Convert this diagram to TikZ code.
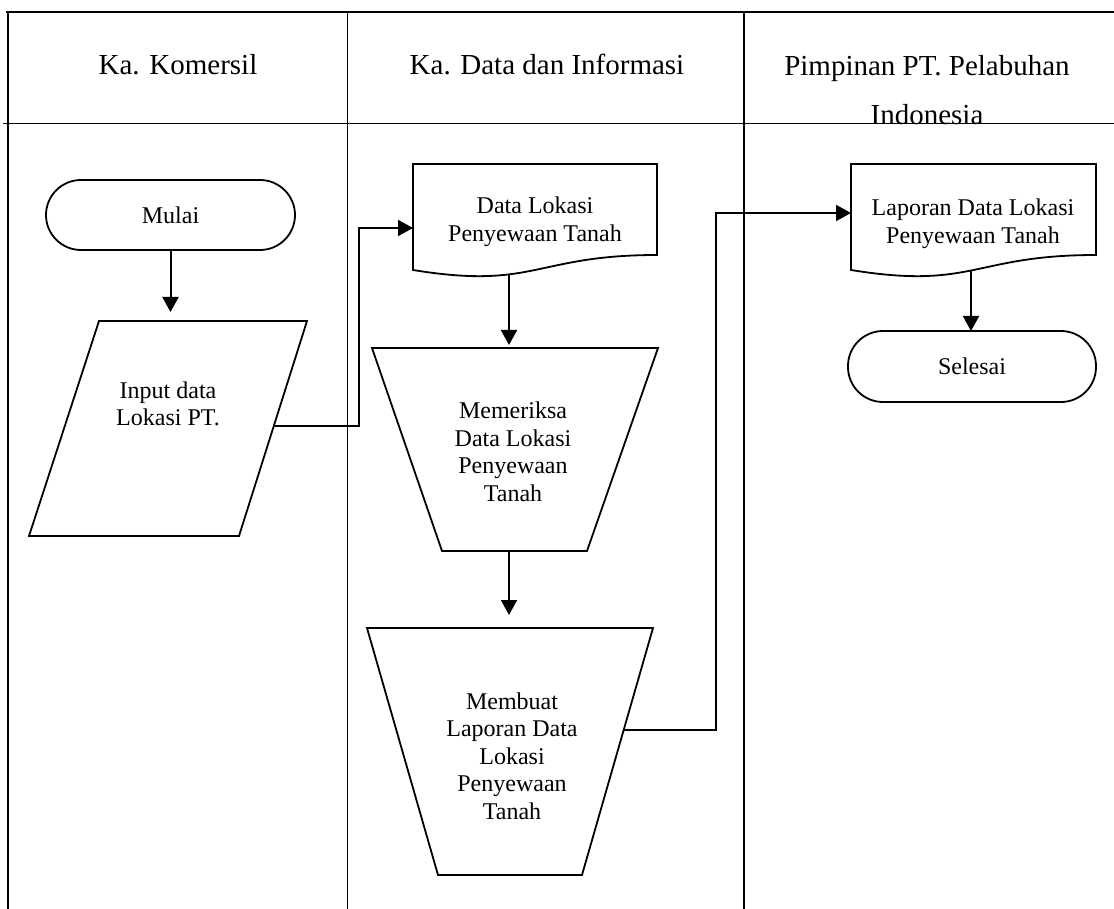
\documentclass[tikz,border=0pt]{standalone}
\usepackage{fontspec}
\setmainfont{Liberation Serif}
\usetikzlibrary{arrows.meta}
\begin{document}
\begin{tikzpicture}[x=0.5pt,y=-0.5pt,
  outline/.style={line width=0.9pt, line join=miter},
  lane/.style={line width=0.9pt},
  flow/.style={line width=1pt, -{Triangle[length=7.5pt,width=8pt]}},
  hdr/.style={font=\fontsize{14.5}{24.5}\selectfont, inner sep=0pt, align=center},
  body/.style={font=\fontsize{12}{13.75}\selectfont, inner sep=0pt, align=center},
  terminal/.style={body, draw, outline, rounded corners=17.5pt,
    minimum width=124.5pt, minimum height=35pt}]

\useasboundingbox (0,0) rectangle (1114,909);

% swimlane frame
\draw[lane] (6,12) -- (1114,12);
\draw[lane] (3,123.5) -- (1114,123.5);
\draw[lane] (8,12) -- (8,909);
\draw[lane] (347.5,12) -- (347.5,909);
\draw[lane] (744,12) -- (744,909);

% lane headings
\node[hdr, anchor=base] (hK) at (178,75) {Ka. Komersil};
\node[hdr, anchor=base] (hD) at (547,75) {Ka. Data dan Informasi};
\node[hdr] (hP) at (927,89.6) {Pimpinan PT. Pelabuhan\\Indonesia};

% start
\node[terminal] (start) at (170.5,215) {Mulai};

% input parallelogram
\coordinate (in-tl) at (99,321);
\coordinate (in-tr) at (307,321);
\coordinate (in-br) at (239,536);
\coordinate (in-bl) at (29,536);
\coordinate (in-top) at (170.5,312);
\coordinate (in-out) at (274,426);
\draw[outline] (in-tl) -- (in-tr) -- (in-br) -- (in-bl) -- cycle;
\node[body] (input) at (168,404) {Input data\\Lokasi PT.};

% document: data lokasi
\coordinate (d1-in) at (413,228);
\coordinate (d1-out) at (509,275);
\draw[outline] (413,164) -- (657,164) -- (657,255)
  .. controls (535,255) and (535,290) .. (413,270) -- cycle;
\node[body] (doc1) at (535,222) {Data Lokasi\\Penyewaan Tanah};

% manual operation: memeriksa
\coordinate (m1-top) at (509,345);
\coordinate (m1-bot) at (509,551);
\draw[outline] (372,348) -- (658,348) -- (587,551) -- (442,551) -- cycle;
\node[body] (check) at (513,452) {Memeriksa\\Data Lokasi\\Penyewaan\\Tanah};

% manual operation: membuat laporan
\coordinate (m2-top) at (509,615);
\coordinate (m2-out) at (624,730);
\draw[outline] (367,628) -- (653,628) -- (582,875) -- (438,875) -- cycle;
\node[body] (make) at (512,756) {Membuat\\Laporan Data\\Lokasi\\Penyewaan\\Tanah};

% document: laporan
\coordinate (d2-in) at (851,213);
\coordinate (d2-out) at (971,270);
\draw[outline] (851,164) -- (1096,164) -- (1096,255)
  .. controls (973.5,255) and (973.5,290) .. (851,270) -- cycle;
\node[body] (doc2) at (973,224) {Laporan Data Lokasi\\Penyewaan Tanah};

% end
\node[terminal, minimum width=124pt, minimum height=35.5pt] (stop) at (972,366.5) {Selesai};

% flow lines
\coordinate (j1) at (359,426);
\coordinate (j2) at (716,730);
\draw[flow] (start.south) -- (in-top);
\draw[flow] (in-out) -- (j1) |- (d1-in);
\draw[flow] (d1-out) -- (m1-top);
\draw[flow] (m1-bot) -- (m2-top);
\draw[flow] (m2-out) -- (j2) |- (d2-in);
\draw[flow] (d2-out) -- (971,331) coordinate (stop-in);
\end{tikzpicture}
\end{document}
